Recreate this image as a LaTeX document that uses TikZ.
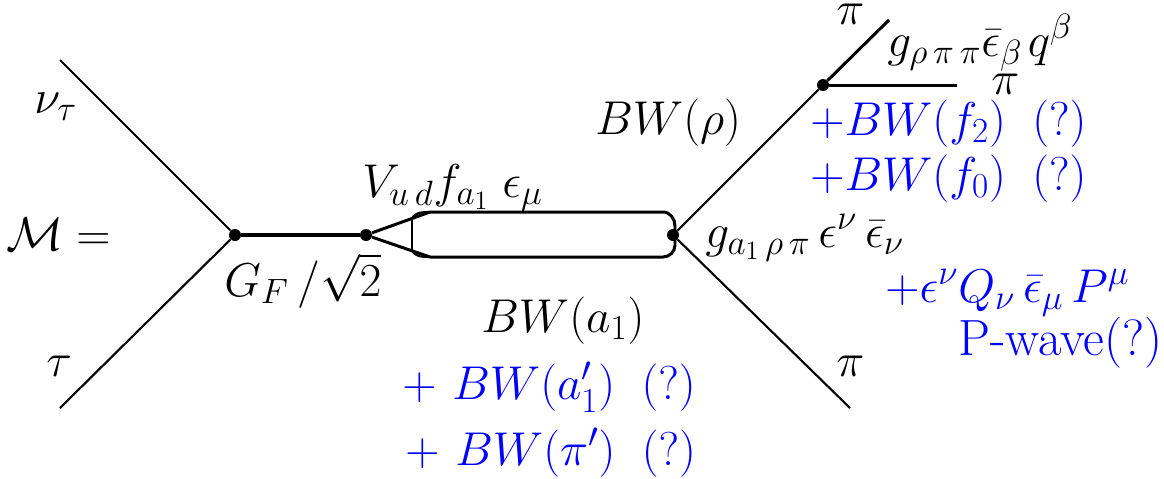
\documentclass[tikz,border=0pt]{standalone}
\usepackage{fix-cm}
\usepackage{amsmath,amssymb}
\usepackage{tikz}
\DeclareMathSizes{27}{27}{20}{15}
\definecolor{addblue}{RGB}{0,0,255}

\begin{document}
\begin{tikzpicture}[
    x=0.02cm, y=-0.02cm,
    every node/.style={font=\fontsize{27}{32}\selectfont, inner sep=0pt, anchor=base west},
    vtx/.style={circle, fill=black, minimum size=0.24cm, inner sep=0pt, anchor=center},
    leg/.style={line width=1.2pt},
    prop/.style={line width=1.7pt},
    extra/.style={text=addblue}
  ]
    \useasboundingbox (0,0) rectangle (1164,478);

    % Vertices
    \node[vtx] (G) at (235,235) {};
    \node[vtx] (V) at (366,235) {};
    \node[vtx] (A) at (673,235) {};
    \node[vtx] (R) at (823,85) {};

    % Free ends of the lines
    \coordinate (nu) at (60,60);
    \coordinate (tau) at (60,408);
    \coordinate (piA) at (889,20);
    \coordinate (piB) at (957,85);
    \coordinate (piC) at (850,408);
    \coordinate (boxTL) at (412,219);
    \coordinate (boxBL) at (412,250);
    \coordinate (topL) at (430,212);
    \coordinate (botL) at (430,257);

    % External lines
    \draw[leg] (nu) -- (G);
    \draw[leg] (tau) -- (G);
    \draw[leg] (A) -- (R);
    \draw[leg] (A) -- (piC);
    \draw[prop] (R) -- (piA);
    \draw[prop] (R) -- (piB);

    % W line and the a1 loop
    \draw[line width=2pt] (G) -- (V);
    \draw[prop] (V) -- (topL);
    \draw[prop] (V) -- (botL);
    \draw[prop] (boxTL) -- (boxBL);
    \draw[leg] (boxTL) to[out=70, in=180] (topL);
    \draw[leg] (boxBL) to[out=-70, in=180] (botL);
    \draw[prop] (topL) -- (663,212)
      to[out=0, in=90] (675,226) -- (675,245)
      to[out=-90, in=0] (663,257) -- (botL);

    % Labels
    \node (lnu) at (34,113) {$\nu_\tau$};
    \node (ltau) at (46,376) {$\tau$};
    \node (lM) at (6,250) {$\mathcal{M}=$};
    \node (lGF) at (224,296) {$G_F\,/\sqrt{2}$};
    \node (lV) at (362,197) {$V_{u\,d}f_{a_1}\;\epsilon_\mu$};
    \node (lrho) at (595,134) {$BW(\rho)$};
    \node (la) at (481,332) {$BW(a_1)$};
    \node (lga) at (705,247) {$g_{a_1\,\rho\,\pi}\,\epsilon^\nu\,\bar\epsilon_\nu$};
    \node (lgr) at (887,56) {$g_{\rho\,\pi\,\pi}\bar\epsilon_\beta\mkern2mu q^\beta$};
    \node (lpiA) at (836,24) {$\pi$};
    \node (lpiB) at (991,94) {$\pi$};
    \node (lpiC) at (836,376) {$\pi$};

    % Possible extra contributions
    \node[extra] (lf2) at (810,135) {$+BW(f_2)\;\;(?)$};
    \node[extra] (lf0) at (810,190) {$+BW(f_0)\;\;(?)$};
    \node[extra] (lQ) at (885,302) {$+\epsilon^\nu Q_\nu\,\bar\epsilon_\mu\,P^\mu$};
    \node[extra, font=\fontsize{29}{33}\selectfont] (lP) at (958,355) {P-wave(?)};
    \node[extra] (lap) at (402,399) {$+\;\mkern1mu BW(a_1')\;\;(?)$};
    \node[extra] (lpp) at (405,465) {$+\;\mkern1mu BW(\pi')\;\;(?)$};

  \end{tikzpicture}
\end{document}
